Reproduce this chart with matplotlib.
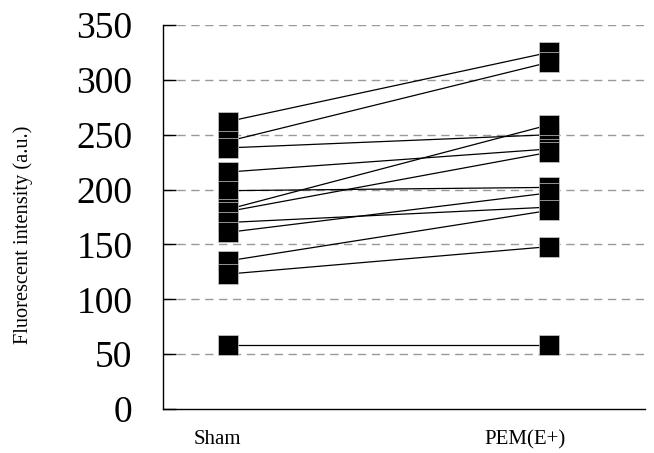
import numpy as np
import matplotlib
matplotlib.use('Agg')
import matplotlib.pyplot as plt

plt.rcParams['font.family'] = ['Liberation Serif', 'DejaVu Serif']

groups = ['Sham', 'PEM(E+)']
sham = [262, 244, 238, 216, 199, 182, 180, 170, 161, 135, 123, 58]
pem = [325, 316, 250, 237, 202, 259, 234, 184, 197, 181, 148, 58]
yticks = [0, 50, 100, 150, 200, 250, 300, 350]

fig = plt.figure(figsize=(6.54, 4.53), dpi=100)
ax = fig.add_axes([0.2492, 0.0971, 0.737, 0.8477])

for grid_y in yticks[1:]:
    ax.axhline(grid_y, color='#999999', lw=1.0, ls=(0, (6, 4)), zorder=0)

for a, b in zip(sham, pem):
    ax.plot([0, 1], [a, b], color='black', lw=0.9, zorder=2)
ax.plot(np.zeros(len(sham)), sham, ls='none', marker='s', ms=13.7,
        mfc='black', mec='#cccccc', mew=0.5, zorder=3)
ax.plot(np.ones(len(pem)), pem, ls='none', marker='s', ms=13.7,
        mfc='black', mec='#cccccc', mew=0.5, zorder=3)

ax.set_xlim(-0.2025, 1.299)
ax.set_ylim(0, 350)
ax.set_yticks(yticks)
ax.tick_params(axis='y', direction='in', length=9, width=1, labelsize=27, pad=22)
ax.set_xticks([-0.034, 0.925])
ax.set_xticklabels(groups, fontsize=15)
ax.tick_params(axis='x', length=0, pad=15)
ax.spines['top'].set_visible(False)
ax.spines['right'].set_visible(False)
ax.spines['left'].set_linewidth(1)
ax.spines['bottom'].set_linewidth(1)
ax.set_ylabel('Fluorescent intensity (a.u.)', fontsize=14.7)
ax.yaxis.set_label_coords(-0.27, 0.453)

fig.savefig('out.png', dpi=100)
